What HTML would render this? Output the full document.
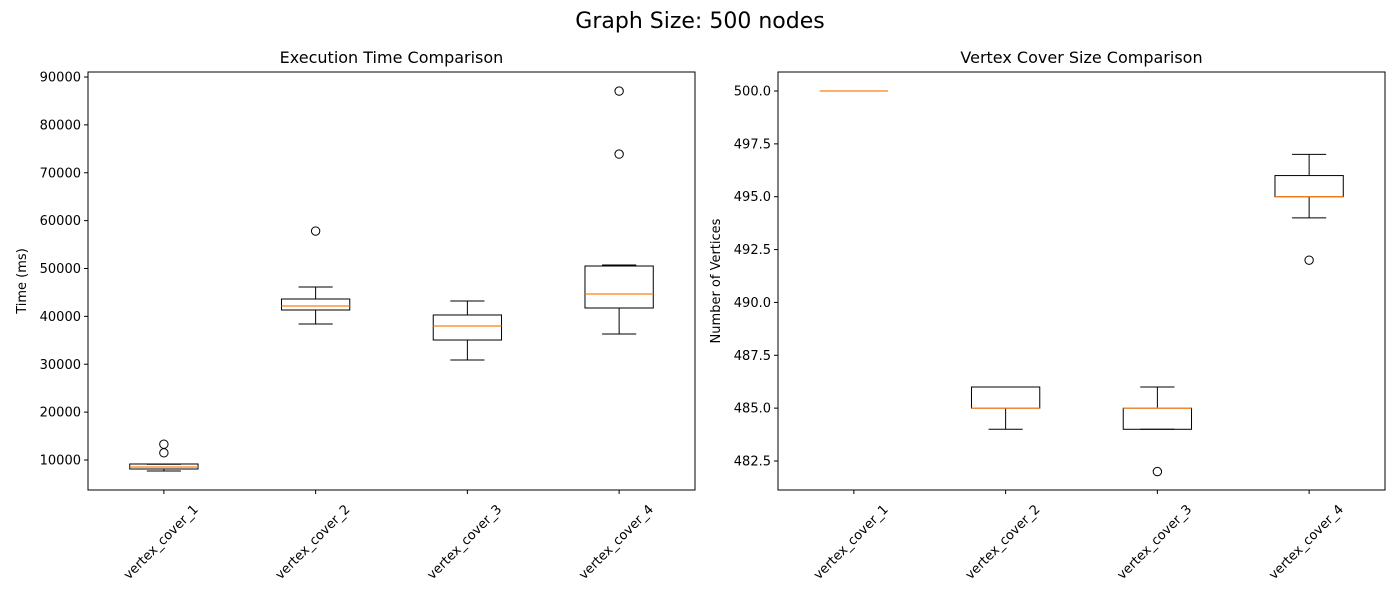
<!DOCTYPE html>
<html><head><meta charset="utf-8"><style>
body{margin:0;background:#fff;}
svg{font-family:"DejaVu Sans","Liberation Sans",sans-serif;}
</style></head><body>
<svg id="chart" width="1400" height="600" xmlns="http://www.w3.org/2000/svg">
<rect width="1400" height="600" fill="#fff"/>
<text x="700" y="28" font-size="22" text-anchor="middle">Graph Size: 500 nodes</text>
<g id="left"></g>
<g id="right"></g>
</svg>
<script>
const categories = ["vertex_cover_1","vertex_cover_2","vertex_cover_3","vertex_cover_4"];
// [whiskerLow, q1, median, q3, whiskerHigh]
const timeStats = [[7700,8120,8540,9165,9100],[38400,41330,42170,43630,46130],[30880,35060,37990,40290,43200],[36310,41750,44670,50520,50730]];
const timeOutliers = [[13300,11500],[57830],[],[73900,87060]];
const timeTicks = [10000,20000,30000,40000,50000,60000,70000,80000,90000];
const sizeStats = [[500,500,500,500,500],[484,485,485,486,486],[484,484,485,485,486],[494,495,495,496,497]];
const sizeOutliers = [[],[],[482],[492]];
const sizeTicks = [482.5,485.0,487.5,490.0,492.5,495.0,497.5,500.0];

const NS="http://www.w3.org/2000/svg";
function mk(parent,tag,attrs){const e=document.createElementNS(NS,tag);for(const k in attrs)e.setAttribute(k,attrs[k]);parent.appendChild(e);return e;}

function panel(g,x0,x1,yTop,yBot,yScale,stats,outs,ticks,fmt,title,ylabel,ylabelX){
  const unit=(x1-x0)/4;
  const xS=i=>x0+unit*(i+0.5);
  mk(g,'rect',{x:x0,y:yTop,width:x1-x0,height:yBot-yTop,fill:'none',stroke:'#000','stroke-width':1});
  const t=mk(g,'text',{x:(x0+x1)/2,y:yTop-9,'font-size':16,'text-anchor':'middle'});t.textContent=title;
  
  
  const yl=mk(g,'text',{transform:`translate(${ylabelX},${(yTop+yBot)/2}) rotate(-90)`,'font-size':13,'text-anchor':'middle'});yl.textContent=ylabel;
  
  
  ticks.forEach(v=>{const y=yScale(v);
    mk(g,'line',{x1:x0-4,x2:x0,y1:y,y2:y,stroke:'#000'});
    const tt=mk(g,'text',{x:x0-7,y:y+4.5,'font-size':13,'text-anchor':'end'});tt.textContent=fmt(v);
    
    
  });
  categories.forEach((c,i)=>{const x=xS(i);
    mk(g,'line',{x1:x,x2:x,y1:yBot,y2:yBot+4,stroke:'#000'});
    const tt=mk(g,'text',{transform:`translate(${x+35},${510}) rotate(-45)`,'font-size':13,'text-anchor':'end'});tt.textContent=c;
    
    
    const s=stats[i];const bw=unit*0.45,cw=unit*0.225;
    const b=mk(g,'g',{});
    
    
    mk(b,'line',{x1:x,x2:x,y1:yScale(s[0]),y2:yScale(s[1]),stroke:'#000'});
    mk(b,'line',{x1:x,x2:x,y1:yScale(s[3]),y2:yScale(s[4]),stroke:'#000'});
    mk(b,'line',{x1:x-cw/2,x2:x+cw/2,y1:yScale(s[0]),y2:yScale(s[0]),stroke:'#000'});
    mk(b,'line',{x1:x-cw/2,x2:x+cw/2,y1:yScale(s[4]),y2:yScale(s[4]),stroke:'#000'});
    const yq1=yScale(s[1]),yq3=yScale(s[3]);
    mk(b,'rect',{x:x-bw/2,y:Math.min(yq1,yq3),width:bw,height:Math.abs(yq1-yq3),fill:'none',stroke:'#000'});
    mk(b,'line',{x1:x-bw/2,x2:x+bw/2,y1:yScale(s[2]),y2:yScale(s[2]),stroke:'#ff7f0e','stroke-width':1.2});
    outs[i].forEach(v=>{const o=mk(b,'circle',{cx:x,cy:yScale(v),r:4.2,fill:'none',stroke:'#000'});
      
      });
  });
}
panel(document.getElementById('left'),88,695,72,490,v=>460-(v-10000)*383/80000,timeStats,timeOutliers,timeTicks,v=>String(v),'Execution Time Comparison','Time (ms)',26);
panel(document.getElementById('right'),778,1385,72,490,v=>91+(500-v)*370/17.5,sizeStats,sizeOutliers,sizeTicks,v=>v.toFixed(1),'Vertex Cover Size Comparison','Number of Vertices',720);
</script>
</body></html>
